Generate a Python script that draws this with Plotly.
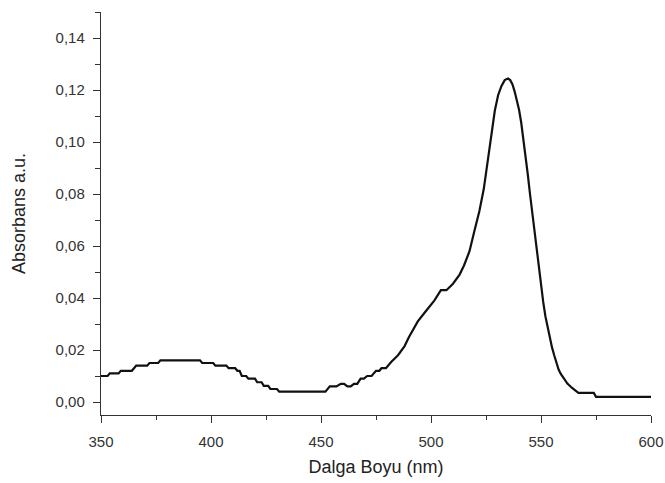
import plotly.graph_objects as go

# Wavelength (nm) and absorbance
wavelength = [350, 353, 354, 358, 359, 364, 365, 366, 371, 372, 376, 377, 395, 396, 401, 402,
              407, 408, 411, 412, 413, 414, 416, 417, 420, 421, 423, 424, 426, 427, 430, 431,
              452, 453, 454, 457, 459, 460.5, 462, 463.5, 465, 466.5, 468, 469.5, 471, 473,
              475, 476.5, 477.5, 479.5, 482, 485, 488, 490, 494, 497.7, 501.5, 504.5, 507,
              510, 513, 515, 517.5, 519.5, 522, 524, 526, 527.5, 529, 530.5, 532, 533.5, 535,
              536, 537, 538, 539, 540, 541, 542, 543, 544, 545, 546, 547, 548, 549, 550, 551,
              552, 553, 554, 555, 556, 557, 558, 559, 560, 562, 564, 565.5, 567, 574, 575, 600]
absorbance = [0.010, 0.010, 0.011, 0.011, 0.012, 0.012, 0.013, 0.014, 0.014, 0.015, 0.015, 0.016,
              0.016, 0.015, 0.015, 0.014, 0.014, 0.013, 0.013, 0.012, 0.012, 0.010, 0.010, 0.009,
              0.009, 0.0076, 0.0076, 0.0062, 0.0062, 0.005, 0.005, 0.004, 0.004, 0.005, 0.006,
              0.006, 0.007, 0.007, 0.006, 0.006, 0.007, 0.007, 0.009, 0.009, 0.010, 0.010, 0.012,
              0.012, 0.013, 0.013, 0.0155, 0.018, 0.0215, 0.025, 0.031, 0.035, 0.039, 0.043,
              0.043, 0.0455, 0.049, 0.0525, 0.058, 0.065, 0.0735, 0.082, 0.094, 0.104, 0.112,
              0.118, 0.1215, 0.1238, 0.1244, 0.1238, 0.1222, 0.1195, 0.1162, 0.1125, 0.1075,
              0.1015, 0.0945, 0.0875, 0.080, 0.073, 0.066, 0.0585, 0.051, 0.0445, 0.0385, 0.033,
              0.0285, 0.0245, 0.021, 0.018, 0.015, 0.0125, 0.0108, 0.0095, 0.0071, 0.0055,
              0.0045, 0.0035, 0.0035, 0.002, 0.002]

x_ticks = [350, 400, 450, 500, 550, 600]
x_tick_text = ["350", "400", "450", "500", "550", "600"]
y_ticks = [0.00, 0.02, 0.04, 0.06, 0.08, 0.10, 0.12, 0.14]
y_tick_text = ["0,00", "0,02", "0,04", "0,06", "0,08", "0,10", "0,12", "0,14"]

fig = go.Figure()
fig.add_trace(go.Scatter(x=wavelength, y=absorbance, mode="lines",
                         line=dict(color="#111111", width=2.2), showlegend=False))

font_family = "Liberation Sans, Arial, sans-serif"
axis_common = dict(showline=True, linecolor="#333333", linewidth=1.4, mirror=False,
                   ticks="outside", ticklen=7, tickwidth=1.3, tickcolor="#333333",
                   showgrid=False, zeroline=False, automargin=False,
                   tickfont=dict(family=font_family, size=15, color="#333333"))

fig.update_layout(
    width=665, height=483,
    margin=dict(l=101, r=14, t=12, b=68),
    paper_bgcolor="white", plot_bgcolor="white",
    xaxis=dict(range=[350, 600], tickvals=x_ticks, ticktext=x_tick_text,
               ticklabelstandoff=6,
               minor=dict(ticks="outside", ticklen=4, tickwidth=1.2, tickcolor="#333333", dtick=25),
               title=dict(text="Dalga Boyu (nm)", standoff=11,
                          font=dict(family=font_family, size=18, color="#222222")),
               **axis_common),
    yaxis=dict(range=[-0.005, 0.15], tickvals=y_ticks, ticktext=y_tick_text,
               ticklabelstandoff=5,
               minor=dict(ticks="outside", ticklen=5, tickwidth=1.2, tickcolor="#333333", dtick=0.01),
               title=dict(text="Absorbans a.u.", standoff=25,
                          font=dict(family=font_family, size=18, color="#222222")),
               **axis_common),
)

# Remove the default page margin so the figure fills the 665x483 window exactly
fig.write_html("out.html", config={"displayModeBar": False},
               post_script="document.body.style.margin='0';document.body.style.overflow='hidden';")
